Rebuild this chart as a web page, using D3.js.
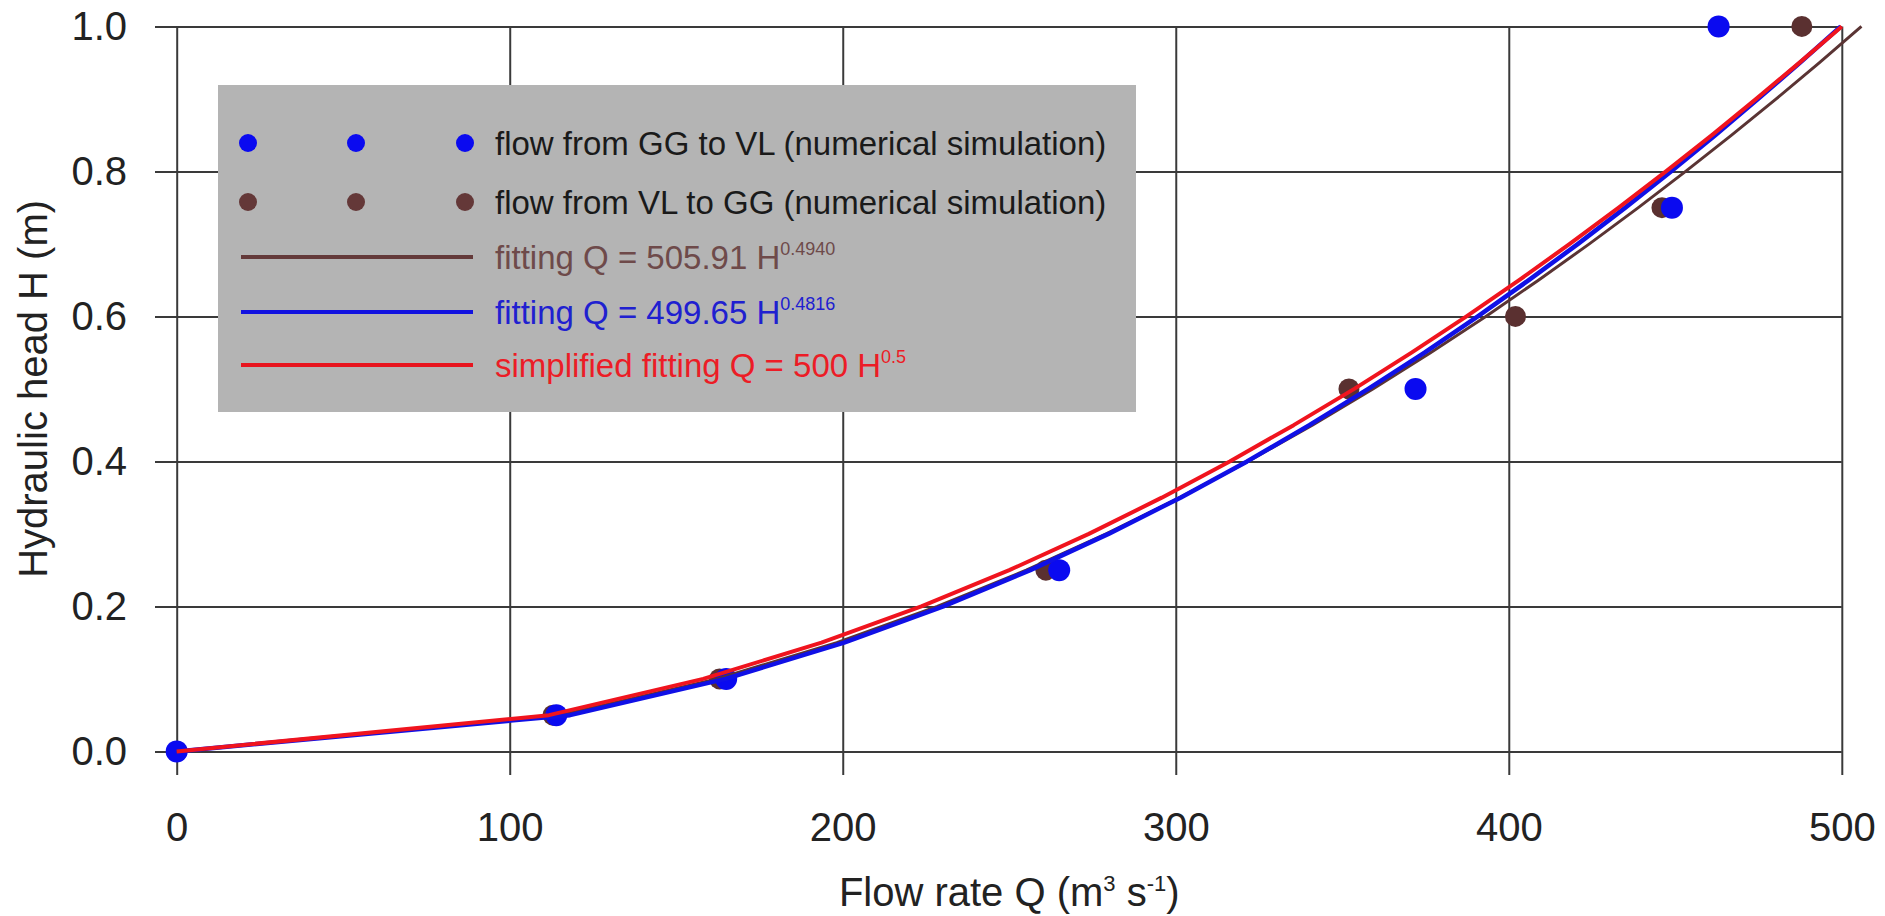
<!DOCTYPE html>
<html><head><meta charset="utf-8">
<script src="https://cdn.jsdelivr.net/npm/d3@7/dist/d3.min.js"></script>
<style>
body{margin:0;background:#fff;}
svg text{font-family:"Liberation Sans",Arial,Helvetica,sans-serif;}
</style>
</head><body>
<svg id="chart" width="1885" height="916"></svg>
<script>
// ---- data ----
const xTicks = [0, 100, 200, 300, 400, 500];
const yTicks = [0, 0.2, 0.4, 0.6, 0.8, 1.0];

// flow from GG to VL (numerical simulation)
const ggToVlQ = [0, 114, 165, 265, 372, 449, 463];
const ggToVlH = [0, 0.05, 0.1, 0.25, 0.5, 0.75, 1.0];

// flow from VL to GG (numerical simulation)
const vlToGgQ = [0, 113, 163, 261, 352, 402, 446, 488];
const vlToGgH = [0, 0.05, 0.1, 0.25, 0.5, 0.6, 0.75, 1.0];

// fitted curves (vertices)
const fitH = [0, 0.05, 0.1, 0.15, 0.2, 0.25, 0.3, 0.35, 0.4, 0.45, 0.5, 0.55, 0.6, 0.65, 0.7, 0.75, 0.8, 0.85, 0.9, 0.95, 1.0];
const fitBrownQ = [0, 115.2, 162.2, 198.2, 228.4, 255.1, 279.1, 301.2, 321.7, 341.0, 359.2, 376.5, 393.1, 408.9, 424.2, 438.9, 453.1, 466.9, 480.3, 493.3, 505.9];
const fitBlueQ  = [0, 118.1, 164.8, 200.4, 230.2, 256.3, 279.8, 301.4, 321.4, 340.1, 357.8, 374.7, 390.7, 406.0, 420.8, 435.0, 448.7, 462.0, 474.9, 487.5, 499.7];
const fitRedQ   = [0, 111.8, 158.1, 193.6, 223.6, 250.0, 273.9, 295.8, 316.2, 335.4, 353.6, 370.8, 387.3, 403.1, 418.3, 433.0, 447.2, 461.0, 474.3, 487.3, 500.0];

const pointLabels = ["flow from GG to VL (numerical simulation)", "flow from VL to GG (numerical simulation)"];
const lineLabels = ["fitting Q = 505.91 H", "fitting Q = 499.65 H", "simplified fitting Q = 500 H"];
const lineExponents = ["0.4940", "0.4816", "0.5"];

// ---- layout / style ----
const W = 1885, H = 916;
const L = 176.7, R = 1841.8, T = 26.4, B = 751.4;
const cBlue = "#0a0af0", cBrown = "#5a3030", cBrownLine = "#5a3434", cRed = "#f0141e", cBlueLine = "#1010e6";
const gridColor = "#3a3a3a";

const svg = d3.select("#chart");
svg.append("rect").attr("width", W).attr("height", H).attr("fill", "#fff");

const x = d3.scaleLinear().domain([0, 500]).range([L, R]);
const y = d3.scaleLinear().domain([0, 1]).range([B, T]);

// horizontal grid + y labels
const yAxis = d3.axisLeft(y).tickValues(yTicks).tickFormat(d3.format(".1f"))
  .tickSize(R - 155).tickPadding(28);
const gy = svg.append("g").attr("transform", `translate(${R},0)`).call(yAxis);
gy.select(".domain").remove();
gy.selectAll("line").attr("stroke", gridColor).attr("stroke-width", 2);
gy.selectAll("text").attr("font-size", 40).attr("fill", "#222");

// vertical grid + x labels
const xAxis = d3.axisBottom(x).tickValues(xTicks).tickFormat(d3.format("d"))
  .tickSize(775 - T).tickPadding(38);
const gx = svg.append("g").attr("transform", `translate(0,${T})`).call(xAxis);
gx.select(".domain").remove();
gx.selectAll("line").attr("stroke", gridColor).attr("stroke-width", 2);
gx.selectAll("text").attr("font-size", 40).attr("fill", "#222");

// axis titles
const xt = svg.append("text").attr("x", (L + R) / 2).attr("y", 906)
  .attr("text-anchor", "middle").attr("font-size", 40).attr("fill", "#222");
xt.append("tspan").text("Flow rate Q (m");
xt.append("tspan").attr("font-size", 22).attr("dy", -15).text("3");
xt.append("tspan").attr("dy", 15).text(" s");
xt.append("tspan").attr("font-size", 22).attr("dy", -15).text("-1");
xt.append("tspan").attr("dy", 15).text(")");

svg.append("text").attr("transform", `translate(47,${(T + B) / 2}) rotate(-90)`)
  .attr("text-anchor", "middle").attr("font-size", 40).attr("fill", "#222")
  .text("Hydraulic head H (m)");

// points
const ptsBrown = vlToGgQ.map((q, i) => [q, vlToGgH[i]]);
const ptsBlue = ggToVlQ.map((q, i) => [q, ggToVlH[i]]);
svg.append("g").selectAll("circle").data(ptsBrown).join("circle")
  .attr("cx", d => x(d[0])).attr("cy", d => y(d[1])).attr("r", 10.5).attr("fill", cBrown);
svg.append("g").selectAll("circle").data(ptsBlue).join("circle")
  .attr("cx", d => x(d[0])).attr("cy", d => y(d[1])).attr("r", 11).attr("fill", cBlue);

// fitted lines
const line = d3.line().x(d => x(d[0])).y(d => y(d[1]));
const fits = [
  {q: fitBrownQ, color: cBrownLine, w: 3},
  {q: fitBlueQ, color: cBlueLine, w: 4.5},
  {q: fitRedQ, color: cRed, w: 4}
];
fits.forEach(f => {
  svg.append("path").datum(f.q.map((q, i) => [q, fitH[i]]))
    .attr("d", line).attr("fill", "none").attr("stroke", f.color)
    .attr("stroke-width", f.w).attr("stroke-linejoin", "round");
});

// legend
const lg = svg.append("g");
lg.append("rect").attr("x", 218).attr("y", 85).attr("width", 918).attr("height", 327).attr("fill", "#b4b4b4");
const markerX = [248, 356, 465];
const pointRowY = [143, 202];
const pointRowColor = [cBlue, "#643838"];
pointRowY.forEach((ry, r) => {
  markerX.forEach(mx => {
    lg.append("circle").attr("cx", mx).attr("cy", ry).attr("r", 9).attr("fill", pointRowColor[r]);
  });
  lg.append("text").attr("x", 495).attr("y", ry + 12).attr("font-size", 33).attr("fill", "#1a1a1a").text(pointLabels[r]);
});
const lineRowY = [257, 312, 365];
const lineRowColor = ["#643a3a", "#1212e0", "#e8141e"];
const lineTextColor = ["#6e4a4a", "#2020d0", "#ec1c26"];
lineRowY.forEach((ry, r) => {
  lg.append("line").attr("x1", 241).attr("x2", 473).attr("y1", ry).attr("y2", ry)
    .attr("stroke", lineRowColor[r]).attr("stroke-width", 4);
  const t = lg.append("text").attr("x", 495).attr("y", ry + 12).attr("font-size", 33).attr("fill", lineTextColor[r]);
  t.append("tspan").text(lineLabels[r]);
  t.append("tspan").attr("font-size", 18).attr("dy", -14).text(lineExponents[r]);
});
</script>
</body></html>
